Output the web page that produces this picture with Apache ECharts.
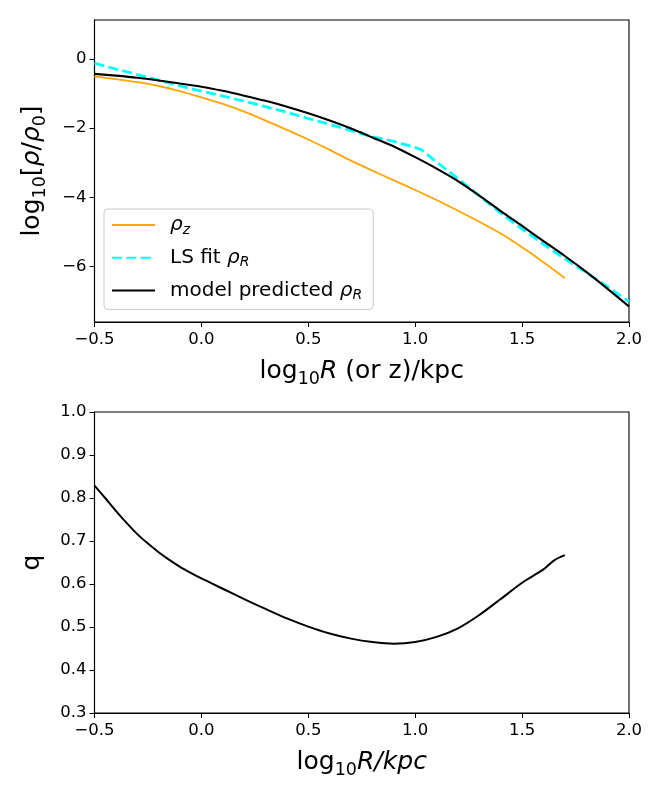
<!DOCTYPE html>
<html>
<head>
<meta charset="utf-8">
<script src="https://cdn.jsdelivr.net/npm/echarts@6/dist/echarts.min.js"></script>
<style>
  html, body { margin: 0; padding: 0; background: #fff; }
  #main { width: 664px; height: 797px; }
</style>
</head>
<body>
<div id="main"></div>
<script>
// 上图：密度剖面
const modelX = [-0.5, -0.4, -0.3, -0.2, -0.1, 0.0, 0.1, 0.2, 0.3, 0.4, 0.5, 0.6, 0.7, 0.8, 0.9, 1.0, 1.1, 1.2, 1.3, 1.4, 1.5, 1.6, 1.7, 1.8, 1.9, 2.0]
const modelY = [-0.43, -0.48, -0.54, -0.62, -0.71, -0.80, -0.92, -1.06, -1.21, -1.38, -1.57, -1.78, -2.01, -2.27, -2.53, -2.84, -3.17, -3.53, -3.95, -4.40, -4.83, -5.27, -5.70, -6.16, -6.65, -7.16]

const lsX = [-0.5, -0.4, -0.3, -0.2, -0.1, 0.0, 0.1, 0.2, 0.3, 0.4, 0.5, 0.6, 0.7, 0.8, 0.9, 1.0, 1.03, 1.1, 1.2, 1.3, 1.4, 1.5, 1.6, 1.7, 1.8, 1.9, 2.0]
const lsY = [-0.12, -0.29, -0.45, -0.61, -0.78, -0.93, -1.07, -1.22, -1.38, -1.54, -1.72, -1.89, -2.07, -2.25, -2.38, -2.56, -2.63, -2.98, -3.46, -3.96, -4.46, -4.92, -5.36, -5.78, -6.18, -6.59, -7.02]

const zX = [-0.5, -0.4, -0.3, -0.2, -0.1, 0.0, 0.1, 0.2, 0.3, 0.4, 0.5, 0.6, 0.7, 0.8, 0.9, 1.0, 1.1, 1.2, 1.3, 1.4, 1.5, 1.6, 1.7]
const zY = [-0.51, -0.58, -0.67, -0.78, -0.93, -1.11, -1.30, -1.52, -1.78, -2.05, -2.33, -2.63, -2.94, -3.23, -3.51, -3.79, -4.08, -4.39, -4.71, -5.05, -5.45, -5.88, -6.34]

// 下图：q
const qX = [-0.5, -0.45, -0.4, -0.35, -0.3, -0.25, -0.2, -0.15, -0.1, -0.05, 0.0, 0.1, 0.2, 0.3, 0.4, 0.5, 0.6, 0.7, 0.8, 0.9, 1.0, 1.1, 1.2, 1.3, 1.4, 1.5, 1.6, 1.65, 1.7]
const qY = [0.829, 0.800, 0.770, 0.742, 0.716, 0.694, 0.674, 0.656, 0.640, 0.626, 0.613, 0.589, 0.565, 0.542, 0.520, 0.501, 0.485, 0.473, 0.465, 0.461, 0.465, 0.477, 0.497, 0.528, 0.565, 0.603, 0.634, 0.655, 0.667]

const xTicks = [-0.5, 0.0, 0.5, 1.0, 1.5, 2.0]
const rhoTicks = [-6, -4, -2, 0]
const qTicks = [0.3, 0.4, 0.5, 0.6, 0.7, 0.8, 0.9, 1.0]

const FONT = 'DejaVu Sans'
const pair = (xs, ys) => xs.map((x, i) => [x, ys[i]])
const fmt = (v, d) => (v < 0 ? '\u2212' : '') + Math.abs(v).toFixed(d)

const nameRich = {
  s: { fontSize: 17.5, fontFamily: FONT, lineHeight: 20, verticalAlign: 'bottom', color: '#000' },
  i: { fontSize: 25, fontFamily: FONT, fontStyle: 'italic', color: '#000' },
}

const baseX = (gridIndex, name) => ({
  type: 'value',
  gridIndex,
  min: -0.5,
  max: 2.0,
  name,
  nameLocation: 'middle',
  nameGap: 32,
  nameTextStyle: { fontSize: 25, fontFamily: FONT, color: '#000', lineHeight: 34, rich: nameRich },
  axisLine: { show: true, onZero: false, lineStyle: { color: '#000', width: 1.1 } },
  axisTick: { show: true, inside: false, length: 5, customValues: xTicks, lineStyle: { color: '#000', width: 1 } },
  axisLabel: { customValues: xTicks, margin: 9, fontSize: 16.5, fontFamily: FONT, color: '#000', formatter: (v) => fmt(v, 1) },
  splitLine: { show: false },
})

const baseY = (gridIndex, min, max, ticks, digits, name, gap) => ({
  type: 'value',
  gridIndex,
  min,
  max,
  name,
  nameLocation: 'middle',
  nameRotate: 90,
  nameGap: gap,
  nameTextStyle: { fontSize: 25, fontFamily: FONT, color: '#000', lineHeight: 34, rich: nameRich },
  axisLine: { show: true, onZero: false, lineStyle: { color: '#000', width: 1.1 } },
  axisTick: { show: true, inside: false, length: 5, customValues: ticks, lineStyle: { color: '#000', width: 1 } },
  axisLabel: { customValues: ticks, margin: 8, fontSize: 16.5, fontFamily: FONT, color: '#000', formatter: (v) => fmt(v, digits) },
  splitLine: { show: false },
})

const legendRich = {
  g: { fontSize: 20, fontFamily: FONT, fontStyle: 'italic', color: '#000', lineHeight: 24 },
  s: { fontSize: 14, fontFamily: FONT, fontStyle: 'italic', color: '#000', lineHeight: 16, verticalAlign: 'bottom' },
}
const legendText = {
  'rho_z': '{g|ρ}{s|z}',
  'LS fit rho_R': 'LS fit {g|ρ}{s|R}',
  'model predicted rho_R': 'model predicted {g|ρ}{s|R}',
}

const myEchart = echarts.init(document.querySelector('#main'), null, { renderer: 'canvas' })
myEchart.setOption({
  animation: false,
  backgroundColor: '#fff',
  grid: [
    { left: 94.5, right: 35, top: 20, height: 302, show: true, borderColor: '#000', borderWidth: 1.1, backgroundColor: 'transparent' },
    { left: 94.5, right: 35, top: 412, height: 301, show: true, borderColor: '#000', borderWidth: 1.1, backgroundColor: 'transparent' },
  ],
  xAxis: [
    baseX(0, 'log{s|10}{i|R} (or z)/kpc'),
    baseX(1, 'log{s|10}{i|R/kpc}'),
  ],
  yAxis: [
    baseY(0, -7.61, 1.13, rhoTicks, 0, 'log{s|10}[{i|ρ}/{i|ρ}{s|0}]', 45),
    baseY(1, 0.3, 1.0, qTicks, 1, 'q', 45),
  ],
  legend: {
    orient: 'vertical',
    left: 104,
    top: 209,
    padding: [4, 11, 7, 7],
    itemWidth: 43,
    itemHeight: 14,
    itemGap: 8.7,
    backgroundColor: 'rgba(255,255,255,0.8)',
    borderColor: '#cccccc',
    borderWidth: 1,
    borderRadius: 4,
    itemStyle: { opacity: 0 },
    data: ['rho_z', 'LS fit rho_R', 'model predicted rho_R'],
    formatter: (name) => legendText[name],
    textStyle: { fontSize: 20, fontFamily: FONT, color: '#000', lineHeight: 24, padding: [0, 0, 0, 10], rich: legendRich },
  },
  series: [
    {
      name: 'rho_z',
      type: 'line',
      xAxisIndex: 0,
      yAxisIndex: 0,
      data: pair(zX, zY),
      symbol: 'none',
      smooth: 0.3,
      lineStyle: { color: '#ffa500', width: 1.8 },
      itemStyle: { color: '#ffa500' },
      z: 2,
    },
    {
      name: 'LS fit rho_R',
      type: 'line',
      xAxisIndex: 0,
      yAxisIndex: 0,
      data: pair(lsX, lsY),
      symbol: 'none',
      lineStyle: { color: '#00ffff', width: 2.8, type: [10, 4.4] },
      itemStyle: { color: '#00ffff' },
      z: 3,
    },
    {
      name: 'model predicted rho_R',
      type: 'line',
      xAxisIndex: 0,
      yAxisIndex: 0,
      data: pair(modelX, modelY),
      symbol: 'none',
      smooth: 0.3,
      lineStyle: { color: '#000', width: 2.1 },
      itemStyle: { color: '#000' },
      z: 4,
    },
    {
      name: 'q',
      type: 'line',
      xAxisIndex: 1,
      yAxisIndex: 1,
      data: pair(qX, qY),
      symbol: 'none',
      smooth: 0.3,
      lineStyle: { color: '#000', width: 2 },
      itemStyle: { color: '#000' },
    },
  ],
})
</script>
</body>
</html>
